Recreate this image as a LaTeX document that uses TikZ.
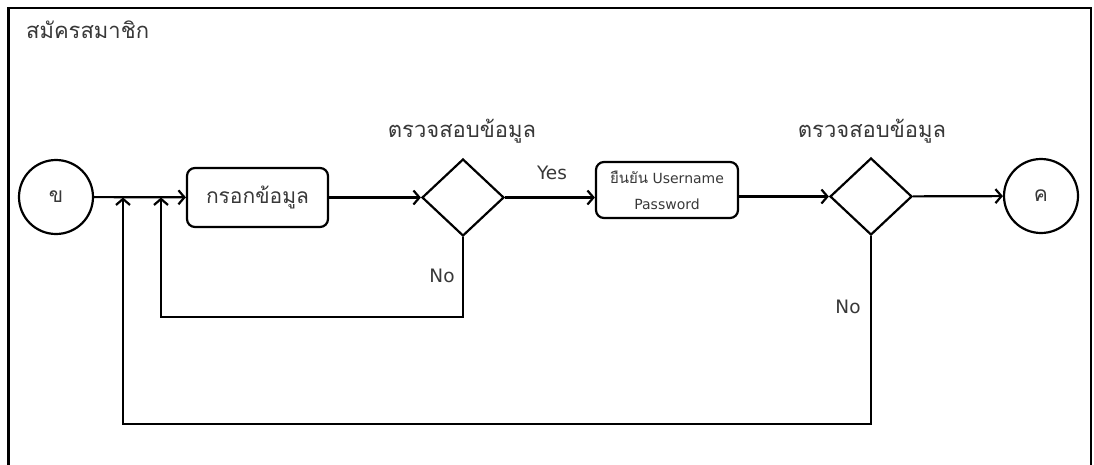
\documentclass[tikz,border=0pt]{standalone}
\usepackage{fontspec}
\setmainfont{DejaVu Sans}
\newfontfamily\thaifont[Script=Thai]{Loma}
\usetikzlibrary{shapes.geometric,arrows.meta}

\begin{document}
\begin{tikzpicture}[x=1pt,y=-1pt,
  line width=2.2pt,
  txt/.style={text=black!78, inner sep=0pt},
  th/.style={txt, font=\thaifont\fontsize{22}{26}\selectfont},
  lat/.style={txt, font=\fontsize{18.5}{22}\selectfont},
  endpt/.style={draw, circle, minimum size=74pt, inner sep=0pt, text=black!78,
    font=\thaifont\fontsize{21}{24}\selectfont},
  stepbox/.style={draw, rectangle, rounded corners=8pt, inner sep=0pt, text=black!78},
  decide/.style={draw, diamond, minimum width=82pt, minimum height=77pt, inner sep=0pt},
  arr/.style={-{Straight Barb[length=6pt,width=14pt,line width=2.2pt]}}
]
\useasboundingbox (0,0) rectangle (1094,464);

% frame of the swimlane
\draw (8.5,470) -- (8.5,8) -- (1091,8) -- (1091,470);
\node[th, anchor=west] (title) at (25,30) {สมัครสมาชิก};

% process nodes
\node[endpt] (start) at (56,197) {ข};
\node[stepbox, minimum width=141pt, minimum height=59pt,
      font=\thaifont\fontsize{21}{24}\selectfont] (input) at (257.5,197.5) {กรอกข้อมูล};
\node[decide] (d1) at (463,197.5) {};
\node[th] (l1) at (462,131) {ตรวจสอบข้อมูล};
\node[stepbox, minimum width=142pt, minimum height=56pt, align=center,
      font=\fontsize{14}{26}\selectfont] (confirm) at (667,190)
      {{\thaifont\fontsize{15}{26}\selectfont ยืนยัน} Username\\Password};
\node[decide] (d2) at (871,196.5) {};
\node[th] (l2) at (872,131) {ตรวจสอบข้อมูล};
\node[endpt] (stop) at (1041,196) {ค};

% joins on the main line
\coordinate (j1) at (161,197.5);
\coordinate (j2) at (123,197.5);
\coordinate (lo1) at (0,317);
\coordinate (lo2) at (0,424);

% main flow
\draw[arr] (start) -- (input);
\draw[arr] (input) -- (d1);
\draw[arr] (d1) -- (confirm.west |- d1);
\node[lat] (yes) at (552,173) {Yes};
\draw[arr] (confirm.east |- d2) -- (d2);
\draw[arr] (d2) -- (stop);

% rejection loops
\draw[arr] (d1.south) -- (d1.south |- lo1) -| (j1);
\node[lat] (no1) at (442,276) {No};
\draw[arr] (d2.south) -- (d2.south |- lo2) -| (j2);
\node[lat] (no2) at (848,307) {No};
\end{tikzpicture}
\end{document}
